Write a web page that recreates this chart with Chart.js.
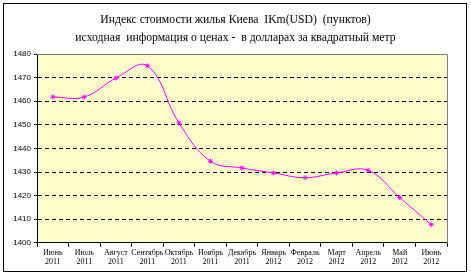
<!DOCTYPE html>
<html>
<head>
<meta charset="utf-8">
<script src="https://cdn.jsdelivr.net/npm/chart.js@4/dist/chart.umd.min.js"></script>
<style>
  body { margin: 0; background: #fff; }
  canvas { display: block; }
</style>
</head>
<body>
<canvas id="chart" width="471" height="276"></canvas>
<script>
// Data
const months = [
    ['Июнь', '2011'], ['Июль', '2011'], ['Август', '2011'], ['Сентябрь', '2011'],
    ['Октябрь', '2011'], ['Ноябрь', '2011'], ['Декабрь', '2011'], ['Январь', '2012'],
    ['Февраль', '2012'], ['Март', '2012'], ['Апрель', '2012'], ['Май', '2012'], ['Июнь', '2012']
];
const indexValues = [1461.8, 1461.8, 1469.8, 1475.0, 1450.8, 1434.6, 1431.7, 1429.6, 1427.6, 1429.6, 1430.7, 1419.2, 1407.7];
const titleLines = [
    'Индекс стоимости жилья Киева  IKm(USD)  (пунктов)',
    'исходная  информация о ценах -  в долларах за квадратный метр'
];
const yMin = 1400;
const yMax = 1480;
const yStep = 10;

// Plot background, gray frame and outer border
const framePlugin = {
    id: 'frame',
    beforeDraw(chart) {
        const { ctx, chartArea: a } = chart;
        ctx.save();
        ctx.fillStyle = '#FFFFCC';
        ctx.fillRect(a.left, a.top, a.right - a.left, a.bottom - a.top);
        ctx.restore();
    },
    afterDraw(chart) {
        const { ctx, chartArea: a } = chart;
        ctx.save();
        ctx.strokeStyle = '#808080';
        ctx.lineWidth = 1;
        ctx.beginPath();
        ctx.moveTo(Math.round(a.left), Math.round(a.top) + 0.5);
        ctx.lineTo(Math.round(a.right) + 0.5, Math.round(a.top) + 0.5);
        ctx.lineTo(Math.round(a.right) + 0.5, Math.round(a.bottom));
        ctx.stroke();
        ctx.strokeStyle = '#000';
        ctx.strokeRect(3.5, 3.5, 463, 268);
        ctx.restore();
    }
};

const ctx = document.getElementById('chart').getContext('2d');
const chart = new Chart(ctx, {
    type: 'line',
    data: {
        labels: months,
        datasets: [{
            data: indexValues,
            borderColor: '#FF00FF',
            borderWidth: 1,
            tension: 0.4,
            pointStyle: 'star',
            pointRadius: 2.5,
            pointBorderColor: '#FF00FF',
            pointBorderWidth: 1,
            pointBackgroundColor: '#FF00FF'
        }]
    },
    options: {
        responsive: false,
        devicePixelRatio: 1,
        animation: false,
        layout: { padding: { left: 0, right: 0, top: 0, bottom: 8 } },
        plugins: {
            legend: { display: false },
            tooltip: { enabled: false },
            title: {
                display: true,
                text: titleLines,
                color: '#000',
                font: { family: 'Liberation Serif', size: 11.7, weight: 'normal', lineHeight: 1.54 },
                padding: { top: 11, bottom: 7 }
            }
        },
        scales: {
            x: {
                offset: true,
                grid: {
                    offset: true,
                    drawOnChartArea: false,
                    tickLength: 4,
                    color: '#000'
                },
                border: { display: true, color: '#000', width: 1 },
                ticks: {
                    autoSkip: false,
                    maxRotation: 0,
                    padding: 1,
                    color: '#000',
                    font: { family: 'Liberation Serif', size: 8, weight: 'normal' }
                }
            },
            y: {
                min: yMin,
                max: yMax,
                afterFit(scale) { scale.width = 37; },
                grid: {
                    color: c => (c.tick && (c.tick.value === yMax || c.tick.value === yMin)) ? 'rgba(0,0,0,0)' : '#000',
                    tickColor: '#000',
                    tickLength: 3
                },
                border: { display: true, color: '#000', width: 1, dash: [4, 3] },
                ticks: {
                    stepSize: yStep,
                    padding: 3,
                    color: '#000',
                    font: { family: 'Liberation Sans', size: 8 },
                    callback: v => String(v)
                }
            },
            // empty right margin so the title stays centred on the page
            yRight: {
                position: 'right',
                min: yMin,
                max: yMax,
                afterFit(scale) { scale.width = 24; },
                grid: { display: false },
                border: { display: false },
                ticks: { display: false }
            }
        }
    },
    plugins: [framePlugin]
});
</script>
</body>
</html>
